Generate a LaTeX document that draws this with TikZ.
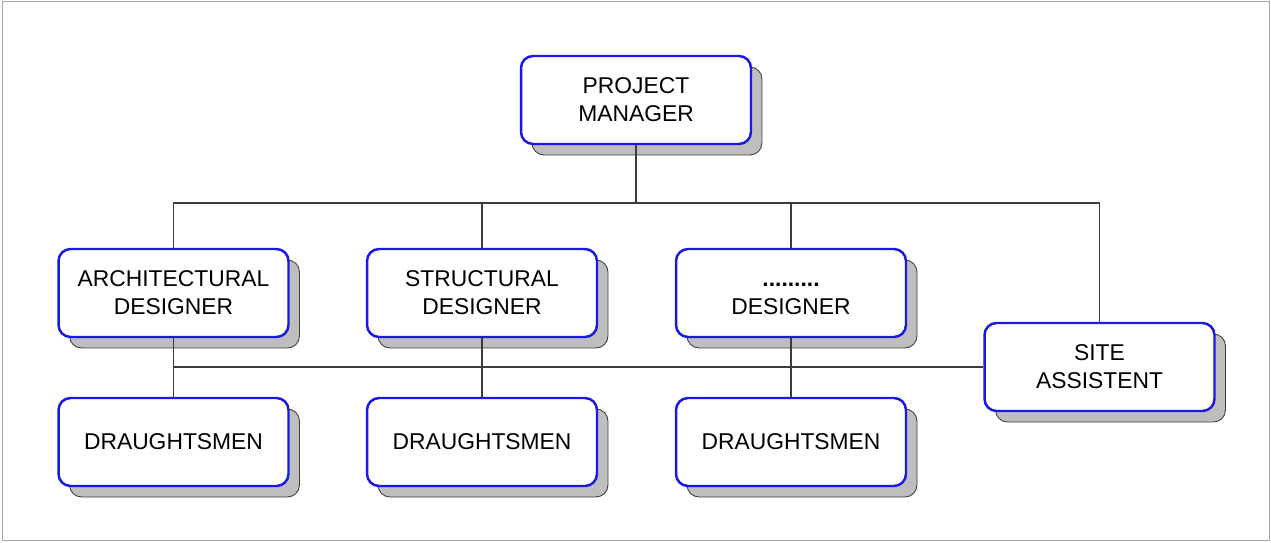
\documentclass[tikz,border=0pt]{standalone}
\usepackage{fontspec}
\setmainfont{Liberation Sans}
\usepackage{xcolor}
\usepackage{tikz}
\usetikzlibrary{shadows}

\definecolor{boxblue}{RGB}{25,25,225}
\definecolor{shadowgray}{RGB}{190,190,190}
\definecolor{linegray}{RGB}{60,60,60}

\tikzset{
  post/.style={draw=boxblue,line width=1.4pt,fill=white,rounded corners=0.24cm,
    minimum width=4.6cm,minimum height=1.76cm,align=center,
    font=\fontsize{13}{16}\selectfont,
    drop shadow={shadow xshift=0.22cm,shadow yshift=-0.22cm,fill=shadowgray,
      draw=linegray,line width=0.5pt,opacity=1}},
  link/.style={draw=linegray,line width=0.6pt}
}

\begin{document}
\begin{tikzpicture}[x=0.02cm,y=-0.02cm]
  \useasboundingbox (0,0) rectangle (1271,542);
  \draw[gray!70] (2,1.5) rectangle (1269,540);
  % boxes
  \node[post] (pm) at (636,100) {PROJECT\\MANAGER};
  \node[post] (arch) at (173.5,293) {ARCHITECTURAL\\DESIGNER};
  \node[post] (struct) at (482,293) {STRUCTURAL\\DESIGNER};
  \node[post] (other) at (791,293) {\vphantom{D}\textbf{.........}\\DESIGNER};
  \node[post] (site) at (1099.5,367) {SITE\\ASSISTENT};
  \node[post] (dr1) at (173.5,442) {DRAUGHTSMEN};
  \node[post] (dr2) at (482,442) {DRAUGHTSMEN};
  \node[post] (dr3) at (791,442) {DRAUGHTSMEN};
  \coordinate (bus) at (636,203);
  % connectors
  \draw[link] (pm.south) -- (bus);
  \draw[link] (arch.north) |- (bus) -| (site.north);
  \draw[link] (struct.north) -- (struct.north |- bus);
  \draw[link] (other.north) -- (other.north |- bus);
  \draw[link] (arch.south) -- (dr1.north);
  \draw[link] (struct.south) -- (dr2.north);
  \draw[link] (other.south) -- (dr3.north);
  \draw[link] (arch.south |- site.west) -- (site.west);
\end{tikzpicture}
\end{document}
